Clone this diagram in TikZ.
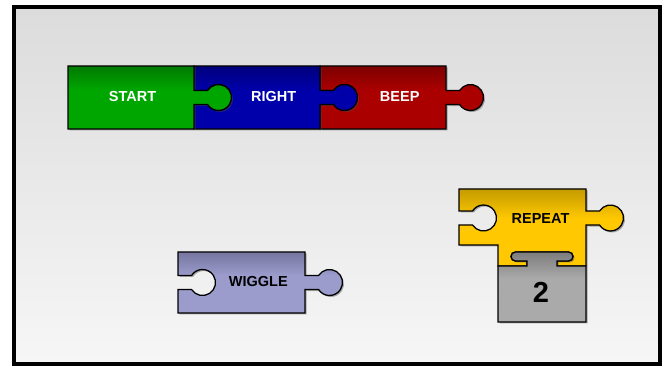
\documentclass[tikz,border=0pt]{standalone}
\usepackage{fontspec}
\setmainfont{Liberation Sans}
\usepackage{tikz}
\usetikzlibrary{shadows}

\makeatletter
\pgfdeclareverticalshading[tikz@axis@top,tikz@axis@bottom]{blockshade}{100bp}{%
  color(0bp)=(tikz@axis@bottom); color(25bp)=(tikz@axis@bottom);
  color(56bp)=(tikz@axis@bottom); color(75bp)=(tikz@axis@top); color(100bp)=(tikz@axis@top)}
\makeatother

\newcommand{\knob}[2]{-- (#1,#2+7) -- (#1+13.55,#2+7) arc[start angle=147.4,end angle=-147.4,radius=13pt] -- (#1,#2-7)}
\newcommand{\hole}[2]{-- (#1,#2-7) -- (#1+13.55,#2-7) arc[start angle=-147.4,end angle=147.4,radius=13pt] -- (#1,#2+7)}

\tikzset{
  block/.style={draw=black, line width=1.3pt, line join=miter,
    drop shadow={shadow xshift=1.5pt, shadow yshift=-1.5pt, fill=black!70, opacity=0.45}},
  tint/.style={top color=#1top, bottom color=#1, shading=blockshade},
  lbl/.style={font=\fontsize{14.5}{14.5}\selectfont\bfseries},
}

\begin{document}
\begin{tikzpicture}[x=1pt,y=1pt]
\definecolor{startgreen}{RGB}{0,166,0}
\definecolor{startgreentop}{RGB}{0,122,0}
\definecolor{rightblue}{RGB}{0,0,170}
\definecolor{rightbluetop}{RGB}{0,0,125}
\definecolor{beepred}{RGB}{170,0,0}
\definecolor{beepredtop}{RGB}{125,0,0}
\definecolor{wigglelilac}{RGB}{155,155,204}
\definecolor{wigglelilactop}{RGB}{118,118,160}
\definecolor{repeatyellow}{RGB}{255,200,0}
\definecolor{repeatyellowtop}{RGB}{196,155,0}
\definecolor{countgrey}{RGB}{170,170,170}
\definecolor{countgreytop}{RGB}{125,125,125}
\useasboundingbox (0,0) rectangle (662,-366);
\fill[white] (0,0) rectangle (662,-366);
\shade[top color={rgb,255:red,220;green,220;blue,220}, bottom color={rgb,255:red,246;green,246;blue,246}] (16,-9) rectangle (658,-362); % Stage
\draw[line width=4pt] (14,-7) rectangle (660,-364); % Frame

\draw[block, tint=beepred] (320,-66) -- (446,-66) \knob{446}{-97.5} -- (446,-129) -- (320,-129) \hole{320}{-97.5} -- cycle; % BEEP
\draw[block, tint=rightblue] (194,-66) -- (320,-66) \knob{320}{-97.5} -- (320,-129) -- (194,-129) \hole{194}{-97.5} -- cycle; % RIGHT
\draw[block, tint=startgreen] (68,-66) -- (194,-66) \knob{194}{-97.5} -- (194,-129) -- (68,-129) -- cycle; % START
\draw[block, tint=wigglelilac] (178,-252) -- (305,-252) \knob{305}{-282.5} -- (305,-313) -- (178,-313) \hole{178}{-282.5} -- cycle; % WIGGLE
\draw[block, tint=repeatyellow] (459,-189) -- (586,-189) \knob{586}{-218} -- (586,-266) -- (557,-266) -- (557,-261) -- (568.5,-261) arc[start angle=-90,end angle=90,radius=4.5pt] -- (515.5,-252) arc[start angle=90,end angle=270,radius=4.5pt] -- (527,-261) -- (527,-266) -- (498,-266) -- (498,-245) -- (459,-245) \hole{459}{-218} -- cycle; % REPEAT
\draw[block, tint=countgrey] (498,-266) -- (527,-266) -- (527,-261) -- (515.5,-261) arc[start angle=270,end angle=90,radius=4.5pt] -- (568.5,-252) arc[start angle=90,end angle=-90,radius=4.5pt] -- (557,-261) -- (557,-266) -- (586,-266) -- (586,-322) -- (498,-322) -- cycle; % Count

\node[lbl, text=white] (start) at (132.5,-96.5) {START};
\node[lbl, text=white] (right) at (273.7,-96.5) {RIGHT};
\node[lbl, text=white] (beep) at (399.7,-96.5) {BEEP};
\node[lbl] (wiggle) at (258.3,-282) {WIGGLE};
\node[lbl] (repeat) at (540.5,-218.5) {REPEAT};
\node[font=\fontsize{29}{29}\selectfont\bfseries] (count) at (541,-292) {2};
\end{tikzpicture}
\end{document}
